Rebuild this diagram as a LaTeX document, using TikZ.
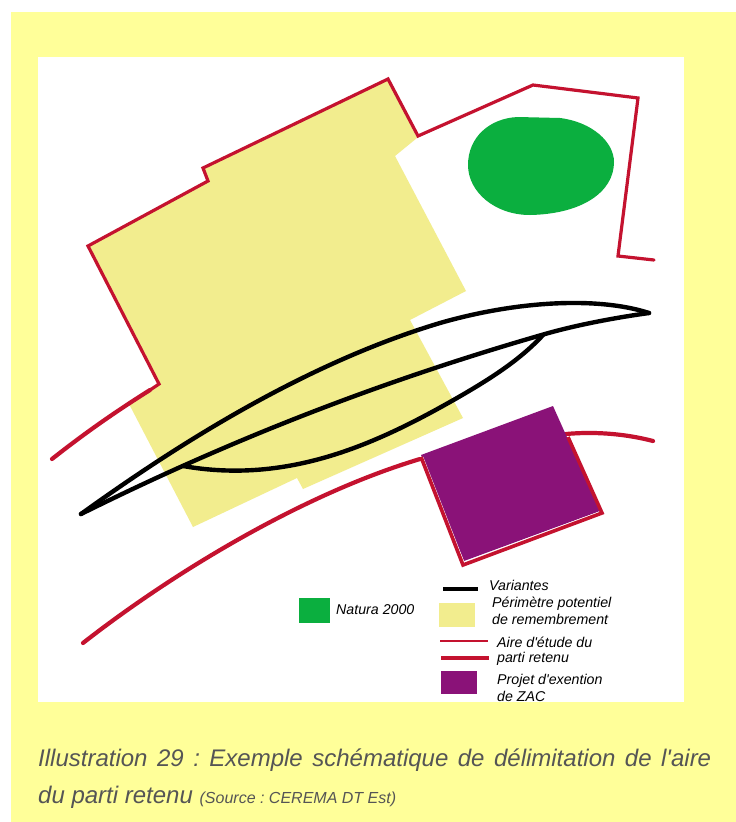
\documentclass[tikz,border=0pt]{standalone}
\usepackage{fontspec}
\newfontfamily\libsans{Liberation Sans}
\definecolor{pagey}{HTML}{FFFF99}
\definecolor{zoney}{HTML}{F2ED8E}
\definecolor{redl}{HTML}{C4122F}
\definecolor{purp}{HTML}{8A1278}
\definecolor{greenn}{HTML}{0BAF3F}
\definecolor{capt}{HTML}{555555}
\tikzset{x=1pt,y=-1pt,
 redline/.style={draw=redl,line width=3.2pt,line join=miter,line cap=round},
 redcurve/.style={draw=redl,line width=4.2pt,line cap=round},
 blackline/.style={draw=black,line width=4.4pt,line cap=round,line join=round},
 legtext/.style={anchor=west,font=\libsans\fontsize{14.2}{15}\selectfont\itshape,inner sep=0pt},
 captext/.style={anchor=base west,text=capt,font=\libsans\fontsize{24}{37}\selectfont\itshape\frenchspacing,inner sep=0pt}}
\begin{document}
\begin{tikzpicture}
\useasboundingbox (0,0) rectangle (736,822);
\fill[white] (0,0) rectangle (736,822);
\fill[pagey] (11,12) rectangle (736,822);
\fill[white] (38,57) rectangle (684,702);
% remembrement zone
\fill[zoney] (395,156) -- (466,291) -- (410,320) -- (463,418) -- (303,489) -- (297,478) -- (193,527) -- (128,402) -- (160,384) -- (88,246) -- (208,181) -- (203,168) -- (388,80) -- (417,138) -- cycle;
% green
\fill[greenn] (468,165) .. controls (468,137) and (490,118) .. (518,117) -- (560,118) .. controls (592,122) and (614,142) .. (614,162) .. controls (614,192) and (582,214) .. (530,215) .. controls (495,215) and (468,192) .. (468,165) -- cycle;
% red lines
\draw[redcurve] (52,459) .. controls (85,433) and (115,412) .. (150,390);
\draw[redline] (150,390) -- (159,384) -- (88,246) -- (208,181) -- (203,168) -- (388,79) -- (418,136) -- (533,85) -- (638,98) -- (618,256) -- (654,260);
\draw[redcurve] (83,643) .. controls (170,575) and (300,495) .. (420,459);
\draw[redcurve] (566,434) .. controls (600,431) and (630,435) .. (653,441);
\fill[purp] (421,455) -- (553,406) -- (600,511) -- (464,561) -- cycle;
\draw[white,line width=.6pt] (423,457) -- (464,562) -- (599,512);
\draw[redline,line width=3.6pt,line cap=butt] (421,457) -- (463,565) -- (602,513) -- (568,437);
% black
\draw[blackline] (81,514) .. controls (170,450) and (300,365) .. (440,323) .. controls (520,300) and (600,297) .. (649,313);
\draw[blackline] (81,514) .. controls (200,455) and (350,390) .. (545,334) .. controls (580,324) and (620,317) .. (649,313);
\draw[blackline] (183,466) .. controls (290,485) and (380,442) .. (457,398) .. controls (490,379) and (520,360) .. (543,335);
% legend
\fill[greenn] (299,598) rectangle (330,623);
\node[legtext] (lnat) at (336,610) {Natura 2000};
\draw[black,line width=3.6pt] (443,589) -- (478,589);
\node[legtext] (lvar) at (489,585) {Variantes};
\fill[zoney] (439,603) rectangle (475,627);
\node[legtext] (lper) at (492,604) {Périmètre potentiel};
\node[legtext] (lrem) at (492,619) {de remembrement};
\draw[redl,line width=2.4pt] (440,641) -- (488,641);
\node[legtext] (lair) at (497,642) {Aire d'étude du};
\draw[redl,line width=3.4pt] (441,658) -- (489,658);
\node[legtext] (lpar) at (497,659) {parti retenu};
\fill[purp] (441,671) rectangle (477,694);
\node[legtext] (lpro) at (497,681) {Projet d'exention};
\node[legtext] (lzac) at (497,696) {de ZAC};
\fill[pagey] (38,702) rectangle (684,712);
% caption
\node[captext,text width=673pt,align=justify] (cap) at (38,766) {Illustration 29 : Exemple schématique de délimitation de l'aire\linebreak du parti retenu {\fontsize{16}{37}\selectfont (Source : CEREMA DT Est)}\par};
\end{tikzpicture}
\end{document}
